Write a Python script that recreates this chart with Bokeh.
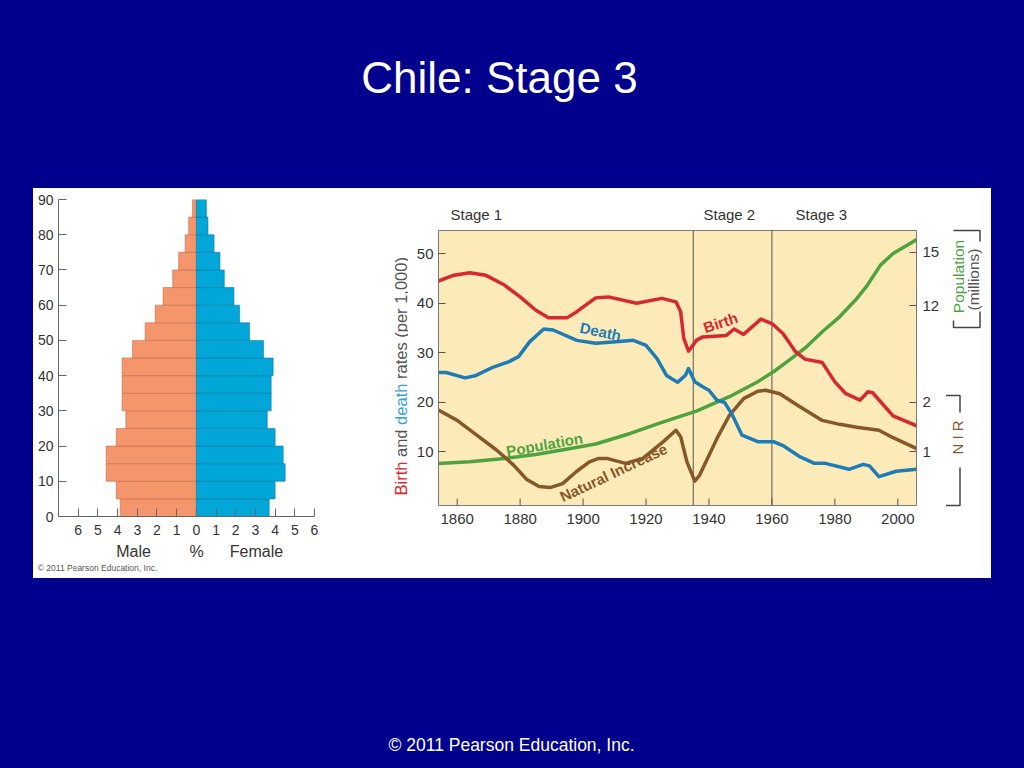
import math
from bokeh.plotting import figure
from bokeh.models import (Range1d, LinearAxis, FixedTicker, Label, Spacer,
                          CustomJSTickFormatter)
from bokeh.layouts import row, column
from bokeh.core.properties import value
from bokeh.embed import file_html
from bokeh.resources import INLINE

FONT = "Liberation Sans"
BG = "#00008C"

# ---------------- data: population pyramid (Chile) ----------------
age_lower = [0, 5, 10, 15, 20, 25, 30, 35, 40, 45, 50, 55, 60, 65, 70, 75, 80, 85]
male_pct = [3.87, 4.07, 4.58, 4.58, 4.07, 3.58, 3.77, 3.77, 3.77, 3.24,
            2.60, 2.09, 1.69, 1.20, 0.90, 0.57, 0.39, 0.20]
female_pct = [3.70, 4.00, 4.51, 4.41, 4.00, 3.60, 3.80, 3.80, 3.90, 3.41,
              2.70, 2.20, 1.91, 1.42, 1.20, 0.90, 0.59, 0.51]
pct_ticks = [-6, -5, -4, -3, -2, -1, 0, 1, 2, 3, 4, 5, 6]
age_ticks = [0, 10, 20, 30, 40, 50, 60, 70, 80, 90]
pyr_captions = ["Male", "%", "Female"]
credit = "\u00a9 2011 Pearson Education, Inc."

# ---------------- data: demographic transition ----------------
birth_years = [1854, 1859, 1864, 1869, 1875, 1880, 1885, 1889, 1895, 1898, 1904, 1908,
               1917, 1925, 1929.5, 1931, 1932, 1933.5, 1936, 1938, 1945.5, 1948, 1951,
               1956.5, 1960, 1963.5, 1967.5, 1970.5, 1976, 1980, 1983.5, 1988, 1990.5,
               1992, 1998.5, 2006]
birth_rate = [44.5, 45.7, 46.2, 45.7, 43.7, 41.3, 38.6, 37.1, 37.1, 38.3, 41.1, 41.3,
              40.0, 41.0, 40.3, 38.3, 32.9, 30.3, 32.5, 33.2, 33.5, 34.8, 33.7,
              36.8, 35.9, 33.9, 30.2, 28.7, 28.0, 24.1, 21.7, 20.4, 22.1,
              21.9, 17.2, 15.2]

death_years = [1854, 1856.5, 1862.5, 1866, 1871.5, 1876.5, 1879.5, 1883, 1887.5, 1890.5,
               1898, 1904, 1910.5, 1916, 1920, 1923.5, 1926.5, 1930, 1932.5, 1933.5,
               1935.5, 1938, 1940, 1942.5, 1945, 1947.5, 1950.5, 1955.5, 1960.5, 1963.5,
               1969, 1973.5, 1977, 1984.5, 1989, 1991, 1994, 1999.5, 2006]
death_rate = [26.0, 26.0, 24.9, 25.4, 27.1, 28.2, 29.2, 32.2, 34.8, 34.6,
              32.5, 31.9, 32.2, 32.5, 31.5, 28.8, 25.4, 24.0, 25.4, 26.8,
              24.1, 23.1, 22.4, 20.4, 19.9, 17.3, 13.3, 12.0, 12.0, 11.2,
              8.9, 7.6, 7.6, 6.4, 7.4, 7.1, 4.9, 6.0, 6.4]

pop_years = [1854, 1864, 1875, 1885, 1896, 1904, 1915, 1925.5, 1936, 1946.5, 1955.5,
             1960.5, 1965.5, 1971, 1976, 1981.5, 1987, 1990, 1994.5, 1998.5, 2006]
pop_millions = [3.17, 3.26, 3.45, 3.67, 4.01, 4.26, 4.85, 5.50, 6.10, 6.91, 7.75,
                8.31, 8.96, 9.71, 10.55, 11.39, 12.42, 13.08, 14.29, 14.94, 15.72]

nir_years = [1854, 1860, 1866, 1872.5, 1878, 1882, 1886, 1889.5, 1893.5, 1898, 1902,
             1905, 1907.5, 1913.5, 1919, 1925.5, 1929.5, 1931, 1933, 1935.5, 1937,
             1942.5, 1946.5, 1951, 1955.5, 1958, 1962.5, 1969, 1976, 1981.5, 1987,
             1994, 1998.5, 2006]
nir_per_1000 = [18.4, 16.3, 13.4, 10.3, 7.2, 4.4, 2.9, 2.7, 3.5, 6.0, 7.9,
                8.6, 8.6, 7.6, 8.6, 12.0, 14.3, 13.0, 7.9, 4.0, 5.2,
                12.6, 17.3, 20.7, 22.2, 22.4, 21.7, 19.0, 16.3, 15.5, 14.9,
                14.3, 12.8, 10.6]

year_ticks = [1860, 1880, 1900, 1920, 1940, 1960, 1980, 2000]
rate_ticks = [10, 20, 30, 40, 50]
pop_ticks = [12, 15]
nir_ticks = [1, 2]          # NIR in percent (= rate per 1,000 / 10)
stage_bounds = [1935, 1960]
stage_names = ["Stage 1", "Stage 2", "Stage 3"]

RED = "#D7282F"
BLUE = "#1D7CB6"
GREEN = "#4FA33F"
BROWN = "#87572A"
YELLOW = "#FCEBB8"
TXT = "#333333"
AX = "#7a7a7a"

# common vertical structure of the white panel (ref y 188..578)
T, FH, B = 11, 317, 62          # frame from y=199 to y=516

# ---------------- title strip ----------------
tf = figure(width=1022, height=188, x_range=Range1d(0, 1022), y_range=Range1d(188, 0),
            x_axis_type=None, y_axis_type=None, min_border=0, output_backend="svg",
            toolbar_location=None, background_fill_color=BG, border_fill_color=BG,
            outline_line_color=None)
tf.text(x=[499], y=[76.5], text=["Chile: Stage 3"], text_font=value(FONT),
        text_font_size="44px", text_color="white", text_align="center",
        text_baseline="middle")

# ---------------- pyramid ----------------
pyr = figure(frame_width=256, frame_height=FH, min_border_left=25, min_border_right=66,
             min_border_top=T, min_border_bottom=B, x_range=Range1d(-7, 6),
             y_range=Range1d(0, 90), output_backend="svg", toolbar_location=None,
             background_fill_color="white", border_fill_color="white",
             outline_line_color=None)
pyr.grid.visible = False
centers = [a + 2.5 for a in age_lower]
pyr.hbar(y=centers, left=[-m for m in male_pct], right=0, height=5,
         fill_color="#F4956B", line_color="#C26A48", line_width=0.8, line_alpha=0.7)
pyr.hbar(y=centers, left=0, right=female_pct, height=5,
         fill_color="#00A7D8", line_color="#08779E", line_width=0.8, line_alpha=0.7)
for ax in (pyr.xaxis[0], pyr.yaxis[0]):
    ax.axis_line_color = "#666666"
    ax.major_tick_line_color = "#666666"
    ax.minor_tick_line_color = None
    ax.major_tick_in = 8
    ax.major_tick_out = 0
    ax.major_label_text_font = FONT
    ax.major_label_text_font_size = "14px"
    ax.major_label_text_color = TXT
pyr.xaxis[0].ticker = FixedTicker(ticks=pct_ticks)
pyr.xaxis[0].major_label_overrides = {t: str(abs(t)) for t in pct_ticks}
pyr.xaxis[0].major_label_standoff = 8
pyr.yaxis[0].ticker = FixedTicker(ticks=age_ticks)
pyr.yaxis[0].major_label_standoff = 5


def pxx(px):
    return -7 + (px - 58) / 256 * 13


cap_axis = LinearAxis(ticker=FixedTicker(ticks=[pxx(133), pxx(196), pxx(256)]),
                      formatter=CustomJSTickFormatter(args=dict(labels=pyr_captions),
                                                      code="return labels[index];"),
                      axis_line_color=None, major_tick_line_color=None,
                      minor_tick_line_color=None, major_tick_in=0, major_tick_out=0,
                      major_label_standoff=5, major_label_text_font=FONT,
                      major_label_text_font_size="16px", major_label_text_color=TXT)
pyr.add_layout(cap_axis, "below")
credit_axis = LinearAxis(ticker=FixedTicker(ticks=[pxx(97)]),
                         formatter=CustomJSTickFormatter(args=dict(labels=[credit]),
                                                         code="return labels[index];"),
                         axis_line_color=None, major_tick_line_color=None,
                         minor_tick_line_color=None, major_tick_in=0, major_tick_out=0,
                         major_label_standoff=0, major_label_text_font=FONT,
                         major_label_text_font_size="8.5px",
                         major_label_text_color="#555555")
pyr.add_layout(credit_axis, "below")

# ---------------- y-axis title strip (ref x 380..408) ----------------
ytf = figure(frame_width=28, frame_height=FH, min_border_left=0, min_border_right=0,
             min_border_top=T, min_border_bottom=B, x_range=Range1d(380, 408),
             y_range=Range1d(516, 199), x_axis_type=None, y_axis_type=None,
             output_backend="svg", toolbar_location=None, background_fill_color="white",
             border_fill_color="white", outline_line_color=None)
fs = 16.5
pieces = [("Birth", RED, 2.334), ("and", "#555555", 1.946), ("death", "#3A9FD6", 2.78),
          ("rates (per 1,000)", "#555555", 0.0)]
start = 495.0
for txt, col, adv in pieces:
    ytf.text(x=[400], y=[start], text=[txt], angle=math.pi / 2, text_font=value(FONT),
             text_font_size=f"{fs}px", text_color=col, text_align="left",
             text_baseline="middle")
    start -= adv * fs

# ---------------- transition chart ----------------
X0, X1 = 1854.06, 2005.94          # yellow box, ref x 438..916
Y0, Y1 = -0.93, 54.74              # yellow box, ref y 505..230
P0, P1 = 0.81, 16.23               # population scale over the same box
k = (Y1 - Y0) / 275
kp = (P1 - P0) / 275
YL, YH = Y0 - 11 * k, Y1 + 31 * k
PL, PH = P0 - 11 * kp, P1 + 31 * kp

lc = figure(frame_width=478, frame_height=FH, min_border_left=30, min_border_right=29,
            min_border_top=T, min_border_bottom=B, x_range=Range1d(X0, X1),
            y_range=Range1d(YL, YH), output_backend="svg", toolbar_location=None,
            background_fill_color="white", border_fill_color="white",
            outline_line_color=None)
lc.grid.visible = False
lc.extra_y_ranges = {"pop": Range1d(PL, PH)}


def pop_of_rate(r):
    return P0 + (r - Y0) / (Y1 - Y0) * (P1 - P0)


right_ticks = [pop_of_rate(t * 10) for t in nir_ticks] + pop_ticks
right_labels = [str(t) for t in nir_ticks] + [str(t) for t in pop_ticks]
lc.add_layout(LinearAxis(y_range_name="pop", ticker=FixedTicker(ticks=right_ticks),
                         formatter=CustomJSTickFormatter(args=dict(labels=right_labels),
                                                         code="return labels[index];"),
                         bounds=(P0, P1)), "right")

for ax in (lc.yaxis[0], lc.yaxis[1]):
    ax.axis_line_color = AX
    ax.major_tick_line_color = "#555555"
    ax.minor_tick_line_color = None
    ax.major_tick_in = 7
    ax.major_tick_out = 0
    ax.major_label_text_font = FONT
    ax.major_label_text_font_size = "15px"
    ax.major_label_text_color = TXT
lc.yaxis[0].ticker = FixedTicker(ticks=rate_ticks)
lc.yaxis[0].bounds = (Y0, Y1)
lc.yaxis[0].major_label_standoff = 5
lc.yaxis[1].major_label_standoff = 6

xa = lc.xaxis[0]
xa.ticker = FixedTicker(ticks=year_ticks)
xa.axis_line_color = None
xa.major_tick_line_color = None
xa.minor_tick_line_color = None
xa.major_tick_in = 0
xa.major_tick_out = 0
xa.major_label_standoff = -3
xa.major_label_text_font = FONT
xa.major_label_text_font_size = "15px"
xa.major_label_text_color = TXT


def lx(px):
    return X0 + (px - 438) / 478 * (X1 - X0)


def ly(py):
    return YL + (516 - py) / 317 * (YH - YL)


# plot box
lc.quad(left=[X0], right=[X1], bottom=[Y0], top=[Y1], fill_color=YELLOW,
        line_color=AX, line_width=1)
# x ticks pointing into the box
lc.segment(x0=year_ticks, y0=[Y0] * len(year_ticks), x1=year_ticks,
           y1=[Y0 + 7 * k] * len(year_ticks), line_color="#555555", line_width=1)
# stage boundaries
lc.segment(x0=stage_bounds, y0=[Y0] * len(stage_bounds), x1=stage_bounds,
           y1=[Y1] * len(stage_bounds), line_color="#555555", line_width=1)

lw = 3.5
lc.line(pop_years, pop_millions, y_range_name="pop", line_color=GREEN, line_width=lw,
        line_join="round", line_cap="round")
lc.line(nir_years, nir_per_1000, line_color=BROWN, line_width=lw, line_join="round",
        line_cap="round")
lc.line(death_years, death_rate, line_color=BLUE, line_width=lw, line_join="round",
        line_cap="round")
lc.line(birth_years, birth_rate, line_color=RED, line_width=lw, line_join="round",
        line_cap="round")

for txt, px, py, ang, col in [("Death", 600, 331, -0.21, BLUE),
                              ("Birth", 720, 322, 0.32, RED),
                              ("Population", 544, 444, 0.175, GREEN),
                              ("Natural Increase", 613, 472, 0.44, BROWN)]:
    lc.add_layout(Label(x=lx(px), y=ly(py), text=txt, angle=ang, text_font=FONT,
                        text_font_size="15px", text_font_style="bold", text_color=col,
                        text_align="center", text_baseline="middle"))

for txt, px in zip(stage_names, [450, 703, 795]):
    lc.add_layout(Label(x=lx(px), y=ly(213.8), text=txt, text_font=FONT,
                        text_font_size="15px", text_color=TXT, text_align="left",
                        text_baseline="middle"))

# ---------------- bracket / side labels (ref x 945..991) ----------------
deco = figure(frame_width=46, frame_height=FH, min_border_left=0, min_border_right=0,
              min_border_top=T, min_border_bottom=B, x_range=Range1d(945, 991),
              y_range=Range1d(516, 199), x_axis_type=None, y_axis_type=None,
              output_backend="svg", toolbar_location=None,
              background_fill_color="white", border_fill_color="white",
              outline_line_color=None)
deco.multi_line(xs=[[953, 979.5, 979.5], [979.5, 979.5, 953, 953],
                    [945.5, 959.5, 959.5], [959.5, 959.5, 945.5]],
                ys=[[230, 230, 241], [311, 327, 327, 320],
                    [395, 395, 412], [467, 505, 505]],
                line_color="#444444", line_width=1.5)
deco.text(x=[958.3], y=[276], text=["Population"], angle=math.pi / 2,
          text_font=value(FONT), text_font_size="15.5px", text_color=GREEN,
          text_align="center", text_baseline="middle")
deco.text(x=[972.7], y=[279], text=["(millions)"], angle=math.pi / 2,
          text_font=value(FONT), text_font_size="15.5px", text_color="#555555",
          text_align="center", text_baseline="middle")
deco.text(x=[957], y=[437], text=["N I R"], angle=math.pi / 2,
          text_font=value(FONT), text_font_size="15px", text_color=BROWN,
          text_align="center", text_baseline="middle")

# ---------------- footer ----------------
ff = figure(width=1022, height=189, x_range=Range1d(0, 1022), y_range=Range1d(189, 0),
            x_axis_type=None, y_axis_type=None, min_border=0, output_backend="svg",
            toolbar_location=None, background_fill_color=BG, border_fill_color=BG,
            outline_line_color=None)
ff.text(x=[511], y=[166.5], text=[credit], text_font=value(FONT),
        text_font_size="17.5px", text_color="white", text_align="center",
        text_baseline="middle")

panel = row(pyr, ytf, lc, deco, styles={"background-color": "white"})
layout = column(tf,
                row(Spacer(width=33, height=390), panel, Spacer(width=31, height=390)),
                ff)

html = file_html(layout, INLINE, title="Chile: Stage 3")
html = html.replace("</head>", "<style>html, body {background-color: %s;}</style></head>" % BG, 1)
open("out.html", "w").write(html)
